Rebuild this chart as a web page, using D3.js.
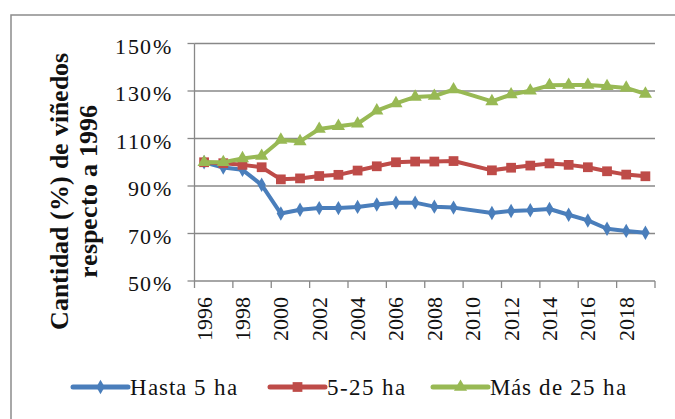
<!DOCTYPE html>
<html>
<head>
<meta charset="utf-8">
<script src="https://cdn.jsdelivr.net/npm/d3@7"></script>
<style>
  @font-face { font-family: 'ChartSerif'; font-weight: 400;
    src: local('Liberation Serif'), local('LiberationSerif'), local('FreeSerif'), local('Tinos'), local('Times New Roman'); }
  @font-face { font-family: 'ChartSerif'; font-weight: 700;
    src: local('Liberation Serif Bold'), local('LiberationSerif-Bold'), local('FreeSerifBold'), local('Tinos Bold'), local('Times New Roman Bold'); }
</style>
</head>
<body style="margin:0">
<div id="chart"></div>
<script>
// categorias (anos) y series
const years = [1996, 1997, 1998, 1999, 2000, 2001, 2002, 2003, 2004, 2005, 2006, 2007,
               2008, 2009, 2010, 2011, 2012, 2013, 2014, 2015, 2016, 2017, 2018, 2019];
const hasta5 = [100, 97.8, 96.8, 90.5, 78.4, 80.0, 80.7, 80.7, 81.2, 82.2, 83.0, 83.0,
                81.3, 80.9, null, 78.6, 79.5, 79.8, 80.3, 77.9, 75.5, 72.0, 71.1, 70.3];
const de5a25 = [100, 99.6, 98.9, 97.9, 92.8, 93.2, 94.2, 94.7, 96.5, 98.3, 100.0, 100.3,
                100.3, 100.5, null, 96.6, 97.7, 98.6, 99.5, 98.9, 97.9, 96.2, 94.8, 94.1];
const mas25 = [100, 100, 101.6, 102.6, 109.4, 108.8, 114.0, 115.2, 116.2, 121.7, 124.8, 127.5,
               127.9, 130.6, null, 125.6, 128.5, 130.1, 132.4, 132.5, 132.5, 132.0, 131.3, 128.8];
const yTicks = [50, 70, 90, 110, 130, 150];
const xLabels = [1996, 1998, 2000, 2002, 2004, 2006, 2008, 2010, 2012, 2014, 2016, 2018];

const series = [
  { name: 'Hasta 5 ha', values: hasta5, color: '#4A7EBB', symbol: d3.symbolDiamond, size: 60 },
  { name: '5-25 ha', values: de5a25, color: '#BE4B48', symbol: d3.symbolSquare, size: 95 },
  { name: 'Más de 25 ha', values: mas25, color: '#98B954', symbol: d3.symbolTriangle, size: 75 }
];

const W = 675, H = 419;
const plot = { left: 194.5, right: 655, top: 43.5, bottom: 281 };
const gridColor = '#888888';
const fontFam = "ChartSerif, 'Liberation Serif', FreeSerif, Tinos";

const svg = d3.select('#chart').append('svg')
  .attr('width', W).attr('height', H)
  .style('display', 'block')
  .style('font-family', fontFam);

// marco exterior (recortado a la derecha y abajo)
svg.append('rect')
  .attr('x', 11).attr('y', 15)
  .attr('width', 720).attr('height', 450)
  .attr('fill', 'none')
  .attr('stroke', '#8c8c8c')
  .attr('stroke-width', 1.5);

const x = d3.scaleBand().domain(years).range([plot.left, plot.right]).padding(0);
const y = d3.scaleLinear().domain([50, 150]).range([plot.bottom, plot.top]);

// lineas de cuadricula
svg.append('g')
  .selectAll('line')
  .data(yTicks.filter(t => t > 50))
  .join('line')
  .attr('x1', plot.left).attr('x2', plot.right)
  .attr('y1', d => y(d)).attr('y2', d => y(d))
  .attr('stroke', gridColor)
  .attr('stroke-width', 1.3);

// eje Y
const yAxis = svg.append('g');
yAxis.append('line')
  .attr('x1', plot.left).attr('x2', plot.left)
  .attr('y1', plot.top).attr('y2', plot.bottom)
  .attr('stroke', gridColor).attr('stroke-width', 1.3);
yAxis.selectAll('line.tick')
  .data(yTicks)
  .join('line')
  .attr('class', 'tick')
  .attr('x1', plot.left - 7).attr('x2', plot.left)
  .attr('y1', d => y(d)).attr('y2', d => y(d))
  .attr('stroke', gridColor).attr('stroke-width', 1.3);
yAxis.selectAll('text')
  .data(yTicks)
  .join('text')
  .attr('x', 172)
  .attr('y', d => y(d) + 10)
  .attr('text-anchor', 'end')
  .attr('fill', '#111')
  .style('font-family', fontFam)
  .style('font-size', '22px')
  .style('letter-spacing', '1.5px')
  .text(d => d + '%');

// eje X
const xAxis = svg.append('g');
xAxis.append('line')
  .attr('x1', plot.left).attr('x2', plot.right)
  .attr('y1', plot.bottom).attr('y2', plot.bottom)
  .attr('stroke', gridColor).attr('stroke-width', 1.3);
const tickPos = xLabels.map(d => x(d)).concat([plot.right]);
xAxis.selectAll('line.tick')
  .data(tickPos)
  .join('line')
  .attr('class', 'tick')
  .attr('x1', d => d).attr('x2', d => d)
  .attr('y1', plot.bottom).attr('y2', plot.bottom + 7)
  .attr('stroke', gridColor).attr('stroke-width', 1.3);
xAxis.selectAll('text')
  .data(xLabels)
  .join('text')
  .attr('transform', d => `translate(${x(d) + x.bandwidth() / 2 + 7.5},${plot.bottom + 16}) rotate(-90)`)
  .attr('text-anchor', 'end')
  .attr('fill', '#111')
  .style('font-family', fontFam)
  .style('font-size', '22px')
  .text(d => d);

// titulo del eje Y
const yTitle = svg.append('text')
  .attr('transform', 'translate(68,191) rotate(-90)')
  .attr('text-anchor', 'middle')
  .attr('fill', '#111')
  .style('font-family', fontFam)
  .style('font-size', '26px')
  .style('font-weight', 'bold');
yTitle.append('tspan').attr('x', 0).attr('y', 0).text('Cantidad (%) de viñedos');
yTitle.append('tspan').attr('x', 0).attr('y', 29).text('respecto a 1996');

// series
const line = d3.line()
  .x(d => x(d.year) + x.bandwidth() / 2)
  .y(d => y(d.value));

series.forEach(s => {
  const pts = years.map((yr, i) => ({ year: yr, value: s.values[i] }))
    .filter(d => d.value != null);
  const g = svg.append('g');
  g.append('path')
    .datum(pts)
    .attr('d', line)
    .attr('fill', 'none')
    .attr('stroke', s.color)
    .attr('stroke-width', 4)
    .attr('stroke-linejoin', 'round');
  g.selectAll('path.marker')
    .data(pts)
    .join('path')
    .attr('class', 'marker')
    .attr('transform', d => `translate(${x(d.year) + x.bandwidth() / 2},${y(d.value)})`)
    .attr('d', d3.symbol().type(s.symbol).size(s.size))
    .attr('fill', s.color);
});

// leyenda
const legendX = [73, 270, 433];
const legend = svg.append('g');
series.forEach((s, i) => {
  const lg = legend.append('g').attr('transform', `translate(${legendX[i]},387)`);
  lg.append('line')
    .attr('x1', 0).attr('x2', 55)
    .attr('stroke', s.color).attr('stroke-width', 5)
    .attr('stroke-linecap', 'round');
  lg.append('path')
    .attr('transform', 'translate(27.5,0)')
    .attr('d', d3.symbol().type(s.symbol).size(s.size))
    .attr('fill', s.color);
  lg.append('text')
    .attr('x', 57).attr('y', 8)
    .attr('fill', '#111')
    .style('font-family', fontFam)
    .style('font-size', '23px')
    .style('letter-spacing', '1px')
    .text(s.name);
});
</script>
</body>
</html>
